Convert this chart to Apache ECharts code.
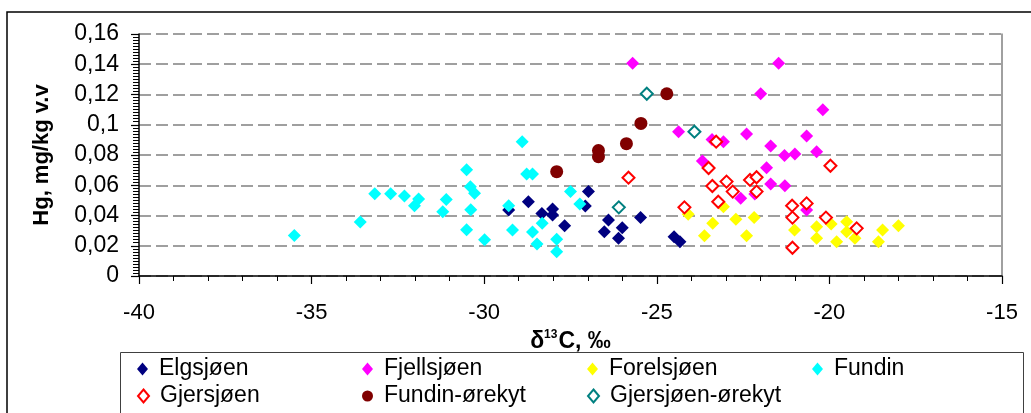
<!DOCTYPE html>
<html>
<head>
<meta charset="utf-8">
<script src="https://cdn.jsdelivr.net/npm/echarts@6/dist/echarts.min.js"></script>
<style>
html,body{margin:0;padding:0;background:#fff;}
#chart{width:1031px;height:413px;}
</style>
</head>
<body>
<div id="chart"></div>
<script>
// ---- data (δ13C ‰, Hg mg/kg v.v) ----
var elgsjoen = [[-29.29,0.0436],[-28.72,0.0491],[-28.33,0.0414],[-28.02,0.0443],[-28.02,0.0403],[-27.67,0.0333],[-26.98,0.0558],[-27.07,0.0463],[-26.40,0.0370],[-26.52,0.0293],[-26.00,0.0319],[-26.11,0.0249],[-25.47,0.0386],[-24.50,0.0260],[-24.33,0.0227]];
var fjellsjoen = [[-25.70,0.1406],[-24.37,0.0954],[-23.40,0.0903],[-23.07,0.0888],[-23.68,0.0760],[-21.47,0.1406],[-21.99,0.1205],[-20.19,0.1100],[-22.40,0.0939],[-20.66,0.0926],[-21.70,0.0860],[-20.37,0.0822],[-21.30,0.0796],[-21.00,0.0807],[-21.82,0.0716],[-21.70,0.0608],[-21.29,0.0597],[-22.57,0.0514],[-22.16,0.0542],[-20.66,0.0436]];
var forelsjoen = [[-24.09,0.0408],[-23.38,0.0348],[-23.62,0.0266],[-23.07,0.0458],[-22.71,0.0375],[-22.40,0.0266],[-22.18,0.0386],[-21.01,0.0304],[-20.66,0.0480],[-20.37,0.0326],[-20.37,0.0249],[-19.95,0.0344],[-19.79,0.0227],[-19.50,0.0359],[-19.50,0.0293],[-19.26,0.0249],[-19.21,0.0315],[-18.46,0.0304],[-18.58,0.0227],[-18.00,0.0333]];
var fundin = [[-35.50,0.0267],[-33.59,0.0357],[-33.17,0.0544],[-32.71,0.0544],[-32.31,0.0529],[-31.90,0.0509],[-32.02,0.0465],[-31.10,0.0505],[-31.20,0.0425],[-30.51,0.0703],[-30.40,0.0590],[-30.28,0.0547],[-30.39,0.0438],[-30.51,0.0306],[-29.99,0.0240],[-29.29,0.0465],[-29.18,0.0304],[-28.90,0.0888],[-28.77,0.0674],[-28.60,0.0674],[-28.60,0.0291],[-28.32,0.0348],[-28.47,0.0212],[-27.90,0.0243],[-27.90,0.0161],[-27.50,0.0558],[-27.23,0.0476]];
var gjersjoen = [[-25.82,0.0650],[-23.28,0.0888],[-23.50,0.0714],[-23.39,0.0595],[-22.98,0.0624],[-22.80,0.0558],[-23.22,0.0491],[-24.20,0.0454],[-19.97,0.0729],[-22.30,0.0635],[-22.11,0.0653],[-22.11,0.0558],[-21.08,0.0465],[-21.07,0.0386],[-20.66,0.0480],[-20.10,0.0386],[-19.21,0.0315],[-21.07,0.0187]];
var fundinOrekyt = [[-27.90,0.0690],[-26.69,0.0829],[-26.69,0.0789],[-25.88,0.0875],[-25.46,0.1009],[-24.71,0.1205]];
var gjersjoenOrekyt = [[-25.29,0.1205],[-23.91,0.0954],[-26.10,0.0454]];

var seriesNames = ['Elgsjøen','Fjellsjøen','Forelsjøen','Fundin','Gjersjøen','Fundin-ørekyt','Gjersjøen-ørekyt'];
var xTickLabels = ['-40','-35','-30','-25','-20','-15'];
var yTickLabels = ['0','0,02','0,04','0,06','0,08','0,1','0,12','0,14','0,16'];

var FONT = "'Liberation Sans', Arial, sans-serif";

function filled(name, data, color, symbol, size) {
  return {name:name, type:'scatter', data:data, symbol:symbol, symbolSize:size,
    itemStyle:{color:color, opacity:1}, emphasis:{disabled:true}};
}
function hollow(name, data, color, size) {
  return {name:name, type:'scatter', data:data, symbol:'diamond', symbolSize:size,
    itemStyle:{color:'#ffffff', borderColor:color, borderWidth:2, opacity:1}, emphasis:{disabled:true}};
}

var series = [
  filled(seriesNames[0], elgsjoen, '#000080', 'diamond', 13),
  filled(seriesNames[1], fjellsjoen, '#ff00ff', 'diamond', 13),
  filled(seriesNames[2], forelsjoen, '#ffff00', 'diamond', 13),
  filled(seriesNames[3], fundin, '#00ffff', 'diamond', 13),
  hollow(seriesNames[4], gjersjoen, '#ff0000', 12),
  filled(seriesNames[5], fundinOrekyt, '#800000', 'circle', 13),
  hollow(seriesNames[6], gjersjoenOrekyt, '#008080', 12)
];

var legendPos = [[137,356],[362,356],[587,356],[812,356],[137,383],[362,383],[587,383]];
var legends = seriesNames.map(function(n, i){
  return {data:[n], left:legendPos[i][0], top:legendPos[i][1], padding:0,
    itemWidth:11, itemHeight:13, selectedMode:false,
    textStyle:{fontFamily:FONT, fontSize:23, color:'#000', padding:[0,0,0,6], lineHeight:26}};
});

var chart = echarts.init(document.getElementById('chart'), null, {renderer:'canvas'});
chart.setOption({
  animation:false,
  backgroundColor:'#ffffff',
  grid:{left:139, right:29, top:34, bottom:137, containLabel:false},
  legend:legends,
  xAxis:{type:'value', min:-40, max:-15, interval:5,
    name:'{a|δ}{s|13}{a|C, ‰}', nameLocation:'middle', nameGap:40,
    nameTextStyle:{rich:{
      a:{fontFamily:FONT, fontSize:23, fontWeight:'bold', color:'#000', lineHeight:26},
      s:{fontFamily:FONT, fontSize:12, fontWeight:'bold', color:'#000', lineHeight:12, padding:[0,1,14,0]}}},
    axisLine:{lineStyle:{color:'#000', width:1.5}},
    axisTick:{length:8, lineStyle:{color:'#000', width:1.2}},
    minorTick:{show:true, splitNumber:5, length:5, lineStyle:{color:'#000', width:1}},
    axisLabel:{fontFamily:FONT, fontSize:22, color:'#000', margin:26,
      formatter:function(v){ return xTickLabels[Math.round((v+40)/5)]; }},
    splitLine:{show:false}
  },
  yAxis:[{type:'value', min:0, max:0.16, interval:0.02,
    name:'Hg, mg/kg v.v', nameLocation:'middle', nameGap:86,
    nameTextStyle:{fontFamily:FONT, fontSize:22, fontWeight:'bold', color:'#000'},
    axisLine:{show:true, lineStyle:{color:'#000', width:1.5}},
    axisTick:{show:true, length:8, lineStyle:{color:'#000', width:1.2}},
    minorTick:{show:true, splitNumber:10, length:6, lineStyle:{color:'#000', width:1}},
    axisLabel:{fontFamily:FONT, fontSize:23, color:'#000', margin:20,
      formatter:function(v){ return yTickLabels[Math.round(v/0.02)]; }},
    splitLine:{show:true, lineStyle:{color:'#808080', width:1.5, type:[12,5]}}
  },{type:'value', min:0, max:0.16, interval:0.02, position:'right',
    axisLine:{show:true, lineStyle:{color:'#808080', width:1.5}},
    axisTick:{show:false}, axisLabel:{show:false}, splitLine:{show:false}
  }],
  graphic:[
    {type:'rect', z:-10, silent:true, shape:{x:7, y:12, width:1040, height:420},
      style:{fill:'#ffffff', stroke:'#000', lineWidth:1.5}},
    {type:'rect', z:-5, silent:true, shape:{x:120.5, y:352.5, width:903, height:80},
      style:{fill:'#ffffff', stroke:'#404040', lineWidth:1}}
  ],
  series:series
});
</script>
</body>
</html>
